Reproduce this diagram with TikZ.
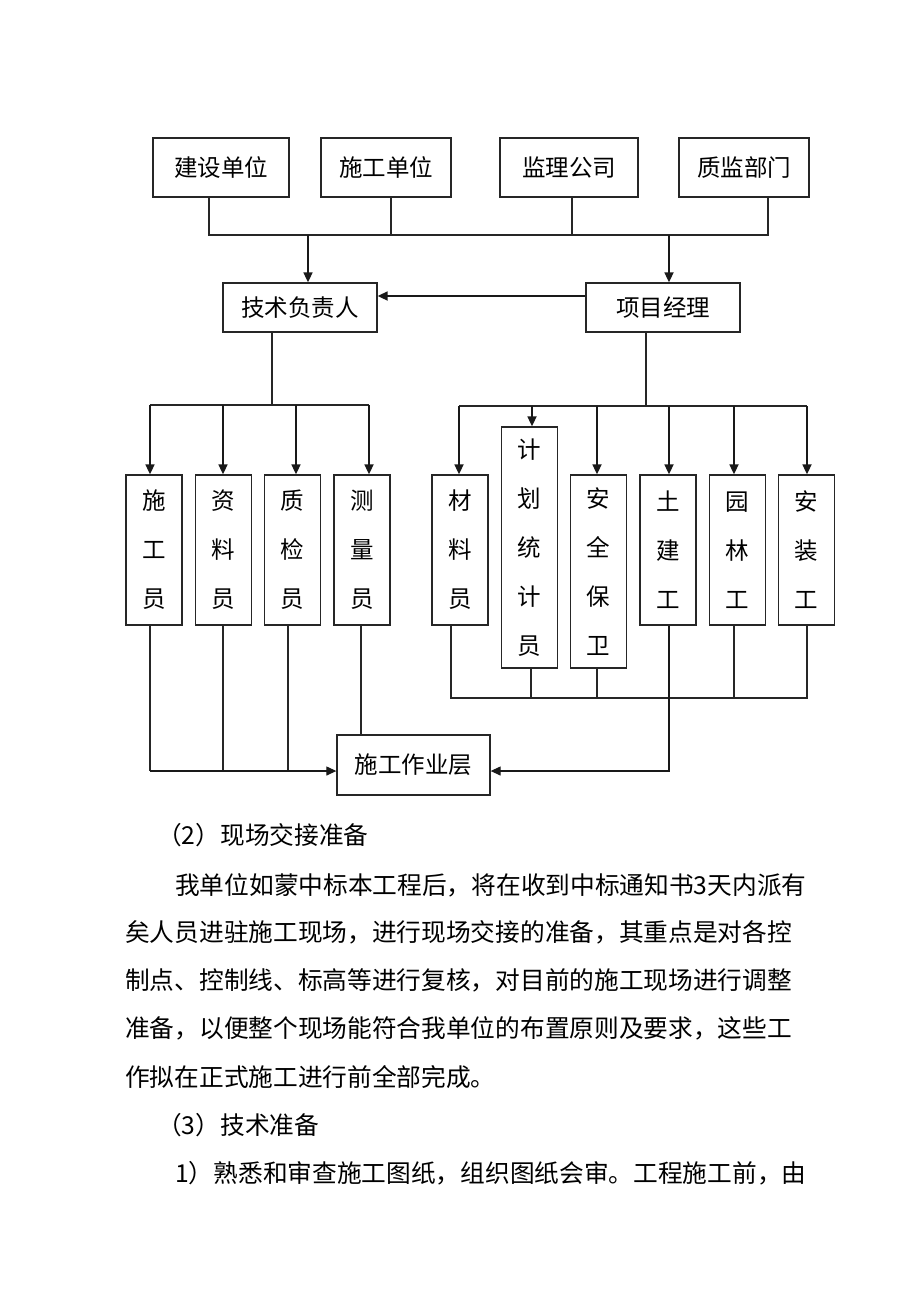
\documentclass[tikz,border=0pt]{standalone}
\usepackage{fontspec}
\setmainfont{Noto Sans CJK SC}
\usetikzlibrary{positioning,arrows.meta}
\tikzstyle{unit} = [rectangle, draw=black!85, line width=1.3pt, inner sep=0pt, minimum height=59pt, text centered, font=\fontsize{23.5}{28}\selectfont]
\tikzstyle{lead} = [unit, minimum width=154pt, minimum height=49pt]
\tikzstyle{staff} = [unit, minimum width=56pt, minimum height=150pt, align=center, font=\fontsize{23.5}{49}\selectfont]
\tikzstyle{tallstaff} = [staff, minimum height=241pt]
\tikzstyle{midstaff} = [staff, minimum height=193pt]
\tikzstyle{line} = [draw=black!85, line width=1.1pt]
\tikzstyle{arrow} = [draw=black!90, line width=1.7pt, -{Triangle[length=10pt,width=9pt]}]
\tikzstyle{para} = [anchor=west, inner sep=0pt, font=\fontsize{24.7}{30}\selectfont]

\begin{document}
\begin{tikzpicture}[x=1pt,y=-1pt]
\useasboundingbox (0,0) rectangle (920,1302);
%
\node (jsdw) [unit, minimum width=136pt] at (221,167.5) {建设单位};
\node (sgdw) [unit, minimum width=130pt] at (386,167.5) {施工单位};
\node (jlgs) [unit, minimum width=138pt] at (569,167.5) {监理公司};
\node (zjbm) [unit, minimum width=130pt] at (744,167.5) {质监部门};
%
\node (jsfz) [lead] at (300,307.5) {技术负责人};
\node (xmjl) [lead] at (663,307.5) {项目经理};
%
\node (sgy) [staff] at (154,550) {施\\工\\员};
\node (zly) [staff] at (223.5,550) {资\\料\\员};
\node (zjy) [staff] at (292.5,550) {质\\检\\员};
\node (cly) [staff] at (362,550) {测\\量\\员};
\node (clyuan) [staff] at (460,550) {材\\料\\员};
\node (jhtj) [tallstaff] at (529.5,547.5) {计\\划\\统\\计\\员};
\node (aqbw) [midstaff] at (598.5,571.5) {安\\全\\保\\卫};
\node (tjg) [staff] at (668,550) {土\\建\\工};
\node (ylg) [staff] at (737.5,550) {园\\林\\工};
\node (azg) [staff] at (806.5,550) {安\\装\\工};
%
\node (sgzy) [unit, minimum width=153pt, minimum height=60pt] at (413.5,765) {施工作业层};
%
% top bus
\coordinate (ta) at (209,235);
\coordinate (tb) at (391,235);
\coordinate (tc) at (572,235);
\coordinate (td) at (768,235);
\draw [line] (ta |- jsdw.south) -- (ta) -- (td) -- (td |- zjbm.south);
\draw [line] (tb |- sgdw.south) -- (tb);
\draw [line] (tc |- jlgs.south) -- (tc);
\coordinate (tl) at (308,235);
\coordinate (tr) at (669,235);
\draw [arrow] (tl) -- (tl |- jsfz.north);
\draw [arrow] (tr) -- (tr |- xmjl.north);
\coordinate (mid) at (0,296);
\draw [arrow] (mid -| xmjl.west) -- (mid -| jsfz.east);
%
% left group
\coordinate (la) at (272,405);
\draw [line] (la |- jsfz.south) -- (la);
\draw [line] (150,405) -- (369,405);
\foreach \x/\n in {150/sgy,223/zly,296/zjy,369/cly}{
  \coordinate (t) at (\x,405);
  \draw [arrow] (t) -- (t |- \n.north);
}
%
% right group
\coordinate (ra) at (646,406);
\draw [line] (ra |- xmjl.south) -- (ra);
\draw [line] (459,406) -- (807,406);
\foreach \x/\n in {459/clyuan,532/jhtj,597/aqbw,669/tjg,734/ylg,807/azg}{
  \coordinate (t) at (\x,406);
  \draw [arrow] (t) -- (t |- \n.north);
}
%
% to the work layer
\foreach \x/\n in {150/sgy,223/zly,288/zjy}{
  \coordinate (b) at (\x,771);
  \draw [line] (b |- \n.south) -- (b);
}
\coordinate (lb) at (150,771);
\draw [arrow, line width=1.2pt] (lb) -- (lb -| sgzy.west);
\coordinate (cm) at (361,0);
\draw [line] (cm |- cly.south) -- (cm |- sgzy.north);
\coordinate (rb1) at (451,698);
\coordinate (rb2) at (807,698);
\draw [line] (rb1 |- clyuan.south) -- (rb1) -- (rb2) -- (rb2 |- azg.south);
\foreach \x/\n in {531/jhtj,597/aqbw,734/ylg}{
  \coordinate (b) at (\x,698);
  \draw [line] (b |- \n.south) -- (b);
}
\coordinate (tj) at (669,771);
\draw [arrow, line width=1.2pt] (tj |- tjg.south) -- (tj) -- (tj -| sgzy.east);
%
% text below
\node (h2) [para] at (157,835) {（2）现场交接准备};
\node (p1) [para] at (175,885) {我单位如蒙中标本工程后，将在收到中标通知书3天内派有};
\node (p2) [para] at (125,932) {矣人员进驻施工现场，进行现场交接的准备，其重点是对各控};
\node (p3) [para] at (125,980) {制点、控制线、标高等进行复核，对目前的施工现场进行调整};
\node (p4) [para] at (125,1028) {准备，以便整个现场能符合我单位的布置原则及要求，这些工};
\node (p5) [para] at (125,1077) {作拟在正式施工进行前全部完成。};
\node (h3) [para] at (157,1125) {（3）技术准备};
\node (p6) [para] at (175,1173) {1）熟悉和审查施工图纸，组织图纸会审。工程施工前，由};
%
\end{tikzpicture}
\end{document}
